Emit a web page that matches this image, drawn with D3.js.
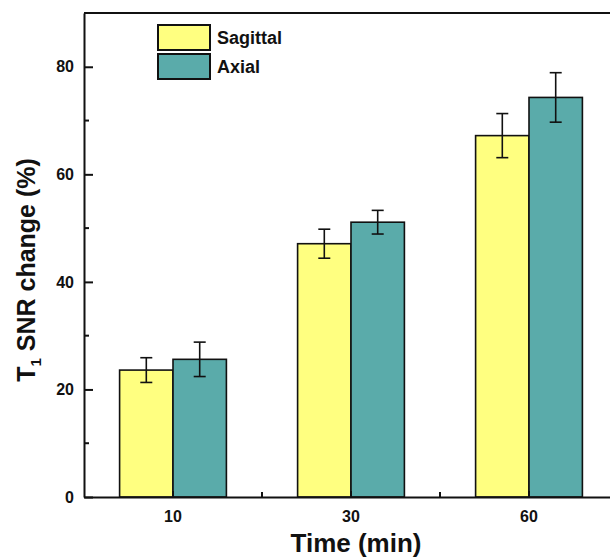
<!DOCTYPE html>
<html>
<head>
<meta charset="utf-8">
<script src="https://cdn.jsdelivr.net/npm/d3@7"></script>
<style>
  html, body { margin: 0; padding: 0; background: #fff; }
  svg { display: block; }
  text { font-family: "Liberation Sans", Arial, sans-serif; font-weight: bold; fill: #111; }
</style>
</head>
<body>
<svg id="chart" width="610" height="558"></svg>
<script>
// Time points (min)
const categories = ["10", "30", "60"];
const seriesNames = ["Sagittal", "Axial"];
// T1 SNR change (%) and standard deviations
const sagittal = [23.6, 47.1, 67.2];
const sagittalErr = [2.3, 2.7, 4.1];
const axial = [25.6, 51.1, 74.3];
const axialErr = [3.2, 2.2, 4.6];
const yTicks = [0, 20, 40, 60, 80];
const yMinorTicks = [10, 30, 50, 70];

const colors = { Sagittal: "#FFFF80", Axial: "#5AABAA" };

const svg = d3.select("#chart");
const plot = { left: 84, right: 618, top: 13, bottom: 497 };

const x = d3.scaleBand().domain(categories).range([plot.left, plot.right]).padding(0);
const xs = d3.scaleBand().domain(seriesNames).range([0, x.bandwidth()]).paddingInner(0).paddingOuter(2/3);
const y = d3.scaleLinear().domain([0, 90]).range([plot.bottom, plot.top]);

const rows = categories.map((c, i) => ({
  cat: c,
  bars: [
    { name: "Sagittal", value: sagittal[i], err: sagittalErr[i] },
    { name: "Axial", value: axial[i], err: axialErr[i] }
  ]
}));

// Bars
const g = svg.append("g");
const groups = g.selectAll("g.grp").data(rows).join("g")
  .attr("class", "grp")
  .attr("transform", d => `translate(${x(d.cat)},0)`);

groups.selectAll("rect").data(d => d.bars).join("rect")
  .attr("x", d => xs(d.name))
  .attr("y", d => y(d.value))
  .attr("width", xs.bandwidth())
  .attr("height", d => y(0) - y(d.value))
  .attr("fill", d => colors[d.name])
  .attr("stroke", "#111")
  .attr("stroke-width", 1.6);

// Error bars
const capW = 6;
const eb = groups.selectAll("g.err").data(d => d.bars).join("g").attr("class", "err")
  .attr("stroke", "#111").attr("stroke-width", 1.6);
const cx = d => xs(d.name) + xs.bandwidth() / 2;
eb.append("line")
  .attr("x1", cx).attr("x2", cx)
  .attr("y1", d => y(d.value + d.err))
  .attr("y2", d => y(d.value - d.err));
eb.append("line")
  .attr("x1", d => cx(d) - capW).attr("x2", d => cx(d) + capW)
  .attr("y1", d => y(d.value + d.err))
  .attr("y2", d => y(d.value + d.err));
eb.append("line")
  .attr("x1", d => cx(d) - capW).attr("x2", d => cx(d) + capW)
  .attr("y1", d => y(d.value - d.err))
  .attr("y2", d => y(d.value - d.err));

// Frame (top and right edges)
svg.append("path")
  .attr("d", `M${plot.left},${plot.top}H${plot.right}V${plot.bottom}`)
  .attr("fill", "none").attr("stroke", "#111").attr("stroke-width", 2);

function styleTicks(sel) {
  sel.select(".domain").attr("stroke", "#111").attr("stroke-width", 2);
  sel.selectAll(".tick line").attr("stroke", "#111").attr("stroke-width", 2);
  sel.selectAll(".tick text")
    .style("font-size", "16px")
    .style("font-family", "Liberation Sans, Arial, sans-serif")
    .style("font-weight", "bold")
    .attr("fill", "#111");
}

// Y axis with inward ticks
const yAxis = d3.axisLeft(y).tickValues(yTicks).tickSizeInner(-9).tickSizeOuter(0).tickPadding(10);
const ya = svg.append("g").attr("transform", `translate(${plot.left},0)`).call(yAxis);
styleTicks(ya);
ya.selectAll(".tick text").attr("x", -10);
svg.append("g").selectAll("line").data(yMinorTicks).join("line")
  .attr("x1", plot.left).attr("x2", plot.left + 5)
  .attr("y1", d => y(d)).attr("y2", d => y(d))
  .attr("stroke", "#111").attr("stroke-width", 2);

// X axis with inward ticks
const xAxis = d3.axisBottom(x).tickSizeInner(-6).tickSizeOuter(0).tickPadding(14);
const xa = svg.append("g").attr("transform", `translate(0,${plot.bottom})`).call(xAxis);
styleTicks(xa);
xa.selectAll(".tick text").attr("y", 14);
// minor ticks between categories
const between = categories.slice(0, -1).map((c, i) => (x(c) + x.bandwidth() + x(categories[i + 1])) / 2);
svg.append("g").selectAll("line").data(between).join("line")
  .attr("x1", d => d).attr("x2", d => d)
  .attr("y1", plot.bottom).attr("y2", plot.bottom - 5)
  .attr("stroke", "#111").attr("stroke-width", 2);

// Axis titles
svg.append("text")
  .attr("x", 356).attr("y", 552)
  .attr("text-anchor", "middle")
  .style("font-size", "26px")
  .text("Time (min)");

const yt = svg.append("text")
  .attr("transform", "translate(35,270) rotate(-90)")
  .attr("text-anchor", "middle")
  .style("font-size", "25px");
yt.append("tspan").text("T");
yt.append("tspan").attr("dy", 6).style("font-size", "15px").text("1");
yt.append("tspan").attr("dy", -6).text(" SNR change (%)");

// Legend
const legend = svg.append("g").attr("transform", "translate(158,25)");
const li = legend.selectAll("g").data(seriesNames).join("g")
  .attr("transform", (d, i) => `translate(0,${i * 29})`);
li.append("rect")
  .attr("width", 52).attr("height", 25)
  .attr("fill", d => colors[d])
  .attr("stroke", "#111").attr("stroke-width", 2);
li.append("text")
  .attr("x", 59).attr("y", 19)
  .style("font-size", "18px")
  .text(d => d);
</script>
</body>
</html>
